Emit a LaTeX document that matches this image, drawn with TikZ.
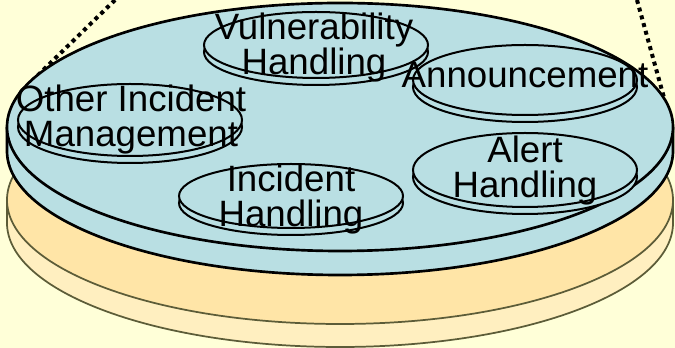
\documentclass[tikz,border=0pt]{standalone}
\usepackage{fontspec}
\setmainfont{Liberation Sans}
\definecolor{paper}{RGB}{255,255,216}
\definecolor{disc}{RGB}{185,223,227}
\definecolor{peach}{RGB}{255,229,167}
\definecolor{peachside}{RGB}{255,239,192}
\definecolor{olive}{RGB}{92,92,56}
\tikzset{
  rim/.style={line width=2pt},
  ring/.style={line width=1.5pt, fill=disc},
  faint/.style={line width=1.3pt, draw=olive},
  dotline/.style={line width=3pt, dash pattern=on 3pt off 3pt},
  tasktext/.style={font=\fontsize{27.5}{26.25}\selectfont, align=center, inner sep=0pt}
}
\begin{document}
\begin{tikzpicture}[x=0.75pt,y=-0.75pt]
  \fill[paper] (0,0) rectangle (675,348);
  \useasboundingbox (0,0) rectangle (675,348);
  % lower disc, orange
  \fill[peachside] (340,223) ellipse [x radius=333, y radius=124];
  \fill[peach] (340,200) ellipse [x radius=333, y radius=124];
  \draw[faint] (340,200) ellipse [x radius=333, y radius=124];
  \draw[faint] (7,200) -- (7,223) arc[start angle=180, end angle=0, x radius=333, y radius=124] -- (673,200);
  % dotted lines from above
  \coordinate (lt) at (115,0);
  \coordinate (lb) at (33,80);
  \coordinate (rt) at (637,0);
  \coordinate (rb) at (671,123);
  \draw[dotline] (lt) -- (lb);
  \draw[dotline] (rt) -- (rb);
  % upper disc, blue
  \fill[disc] (7,127) -- (7,151) arc[start angle=180, end angle=0, x radius=333, y radius=124] -- (673,127) -- cycle;
  \draw[rim] (7,127) -- (7,151) arc[start angle=180, end angle=0, x radius=333, y radius=124] -- (673,127);
  \filldraw[rim, fill=disc] (340,127) ellipse [x radius=333, y radius=124];
  % small discs: name / centre / y radius / text position
  \foreach \nm/\cx/\cy/\ry/\tx/\ty/\txt in {
      vuln/316/45/33/314/48/{Vulnerability\\Handling},
      annc/525/80/35/525/75/{Announcement},
      other/130/120/36/131/120/{Other Incident\\Management},
      inc/291/196/32/291/200/{Incident\\Handling},
      alert/525/170/37/525/171/{Alert\\Handling}} {
    \filldraw[ring] (\cx,\cy+7) ellipse [x radius=112, y radius=\ry];
    \filldraw[ring] (\cx,\cy) ellipse [x radius=112, y radius=\ry];
    \node[tasktext] (\nm) at (\tx,\ty) {\txt};
  }
\end{tikzpicture}
\end{document}
